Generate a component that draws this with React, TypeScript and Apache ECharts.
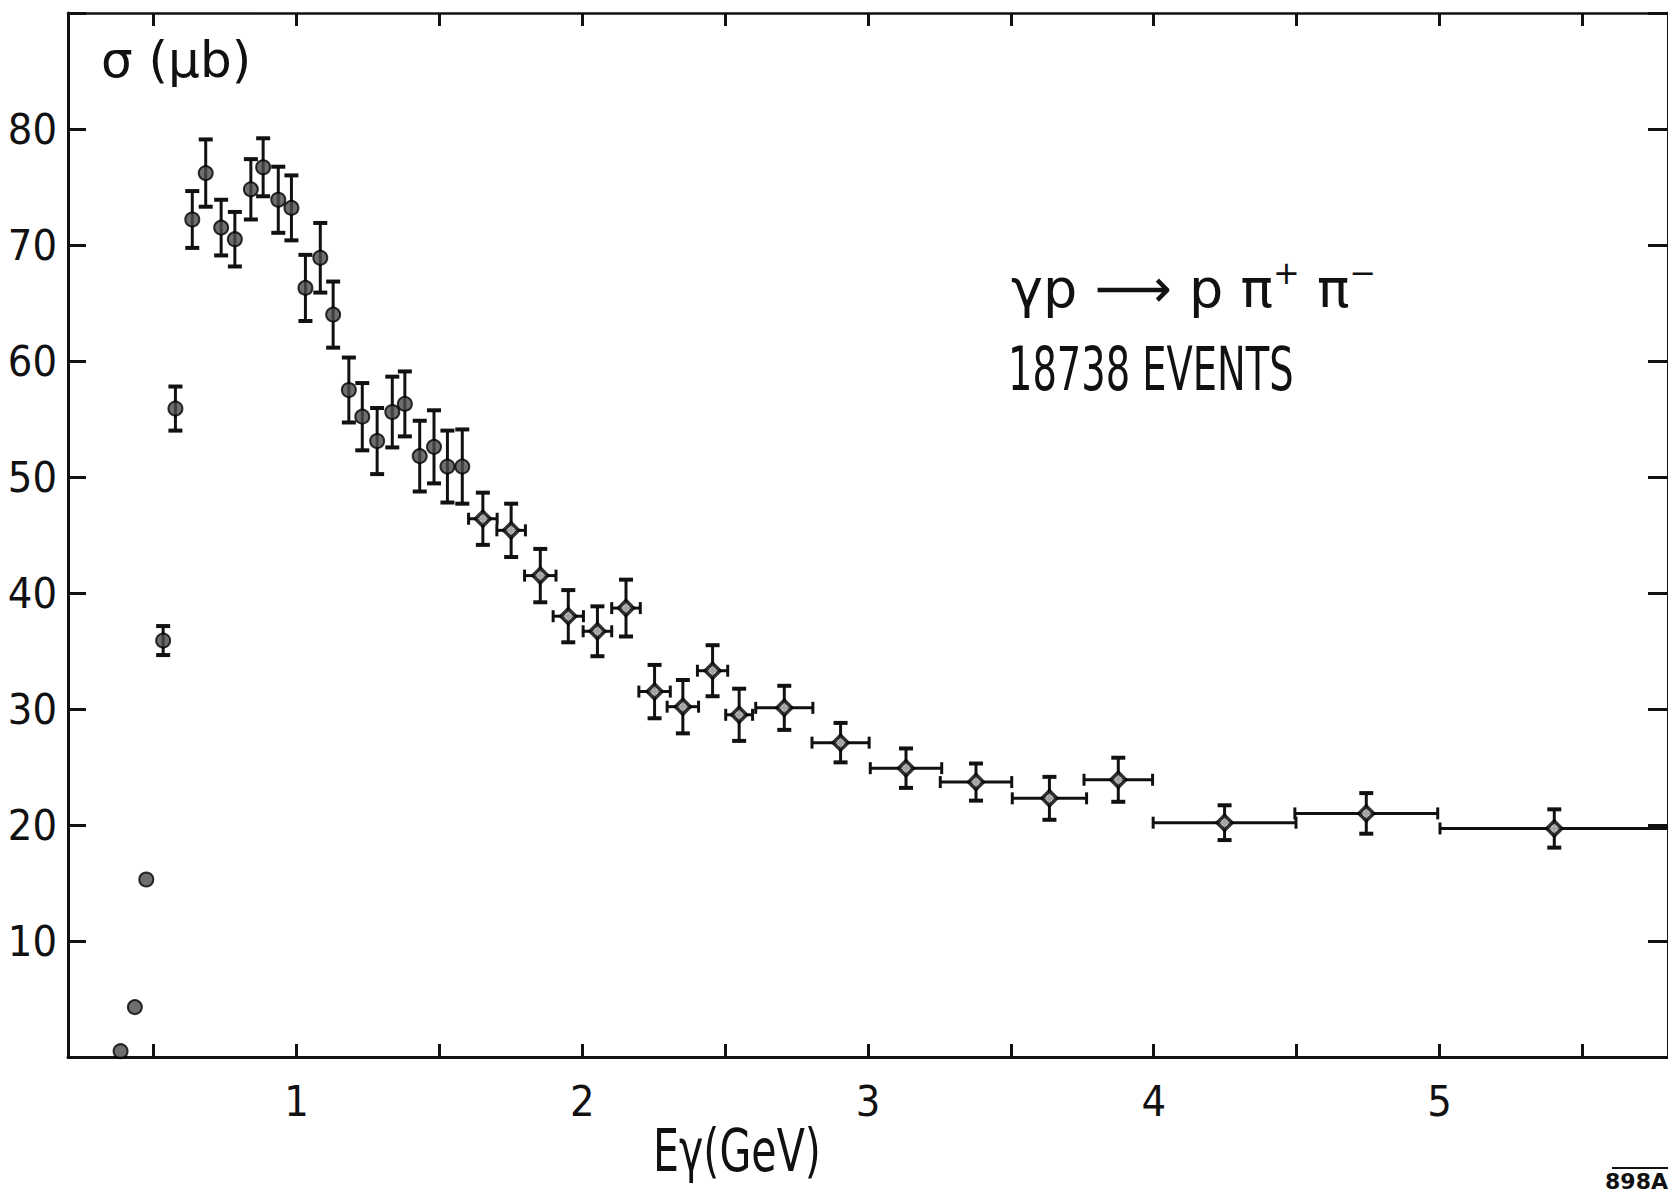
import React, { useEffect, useRef } from 'react';
import * as echarts from 'echarts';

// photon energy (GeV), bin centres
const energy = [0.384, 0.434, 0.474, 0.533, 0.576, 0.635, 0.682, 0.736, 0.784, 0.84, 0.883, 0.936, 0.982, 1.031, 1.083, 1.128, 1.183, 1.23, 1.282, 1.335, 1.379, 1.431, 1.481, 1.528, 1.58, 1.652, 1.751, 1.853, 1.951, 2.053, 2.153, 2.253, 2.352, 2.456, 2.549, 2.707, 2.904, 3.133, 3.378, 3.635, 3.876, 4.248, 4.744, 5.402];
// cross section (µb)
const sigma = [0.5, 4.3, 15.3, 35.9, 55.9, 72.2, 76.2, 71.5, 70.5, 74.8, 76.7, 73.9, 73.2, 66.3, 68.9, 64.0, 57.5, 55.2, 53.1, 55.6, 56.3, 51.8, 52.6, 50.9, 50.9, 46.4, 45.4, 41.5, 38.0, 36.7, 38.7, 31.5, 30.2, 33.3, 29.5, 30.1, 27.1, 24.9, 23.7, 22.3, 23.9, 20.2, 21.0, 19.7];
// vertical error (±µb)
const sigmaErr = [0, 0, 0, 1.25, 1.9, 2.45, 2.9, 2.4, 2.35, 2.6, 2.5, 2.85, 2.8, 2.85, 3.0, 2.85, 2.8, 2.9, 2.85, 3.05, 2.8, 3.05, 3.15, 3.1, 3.2, 2.25, 2.3, 2.3, 2.25, 2.15, 2.45, 2.3, 2.3, 2.2, 2.25, 1.9, 1.7, 1.7, 1.6, 1.85, 1.9, 1.5, 1.75, 1.65];
// horizontal half bin width (±GeV)
const energyErr = [0, 0, 0, 0, 0, 0, 0, 0, 0, 0, 0, 0, 0, 0, 0, 0, 0, 0, 0, 0, 0, 0, 0, 0, 0, 0.05, 0.05, 0.055, 0.053, 0.05, 0.05, 0.055, 0.055, 0.053, 0.047, 0.1, 0.1, 0.125, 0.125, 0.13, 0.12, 0.25, 0.25, 0.4];

const xTickValues = [0.5, 1, 1.5, 2, 2.5, 3, 3.5, 4, 4.5, 5, 5.5];
const xLabelValues = [1, 2, 3, 4, 5];
const yLabelValues = [10, 20, 30, 40, 50, 60, 70, 80];

const LABEL_FONT = "'DejaVu Sans Condensed', 'Liberation Sans Narrow', 'DejaVu Sans', sans-serif";
const TEXT_FONT = "'DejaVu Sans', sans-serif";
const INK = '#111';

export default function App() {
  const ref = useRef<HTMLDivElement>(null);

  useEffect(() => {
    document.body.style.margin = '0';
    const chart = echarts.init(ref.current!, undefined, { renderer: 'svg' });

    const errData = energy.map((e, i) => [e, sigma[i], sigmaErr[i], energyErr[i]]);
    const pointData = energy.map((e, i) => ({
      value: [e, sigma[i]],
      symbol: i < 25 ? 'circle' : 'diamond',
      symbolSize: i < 25 ? 14 : 15,
      itemStyle: i < 25
        ? { color: '#4a4a4a', borderColor: '#000', borderWidth: 2 }
        : { color: '#c8c8c8', borderColor: '#000', borderWidth: 3.5 },
    }));

    const axisLine = { show: true, onZero: false, lineStyle: { color: INK, width: 3 } };

    chart.setOption({
      animation: false,
      backgroundColor: '#fff',
      grid: { left: 68, right: -12, top: 13, bottom: 135 },
      xAxis: [
        {
          type: 'value', position: 'bottom', min: 0.2, max: 5.8,
          axisLine,
          axisTick: { show: true, inside: true, length: 13, lineStyle: { color: INK, width: 3 }, customValues: xTickValues },
          axisLabel: { show: true, customValues: xLabelValues, fontSize: 43, fontFamily: LABEL_FONT, color: INK, margin: 22 },
          splitLine: { show: false },
        },
        {
          type: 'value', position: 'top', min: 0.2, max: 5.8,
          axisLine: { show: true, onZero: false, lineStyle: { color: INK, width: 2.5 } },
          axisTick: { show: true, inside: true, length: 13, lineStyle: { color: INK, width: 3 }, customValues: xTickValues },
          axisLabel: { show: false },
          splitLine: { show: false },
        },
      ],
      yAxis: [
        {
          type: 'value', position: 'left', min: 0, max: 90, interval: 10,
          axisLine,
          axisTick: { show: true, inside: true, length: 18, lineStyle: { color: INK, width: 3 } },
          axisLabel: {
            show: true, fontSize: 43, fontFamily: LABEL_FONT, color: INK, margin: 11,
            formatter: (v: number) => (yLabelValues.indexOf(v) >= 0 ? String(v) : ''),
          },
          splitLine: { show: false },
        },
        {
          type: 'value', position: 'right', min: 0, max: 90, interval: 10,
          axisLine,
          axisTick: { show: true, inside: true, length: 20, lineStyle: { color: INK, width: 3 } },
          axisLabel: { show: false },
          splitLine: { show: false },
        },
      ],
      series: [
        {
          type: 'custom',
          xAxisIndex: 0, yAxisIndex: 0,
          data: errData,
          z: 2,
          renderItem: (_params: any, api: any) => {
            const x = api.value(0), y = api.value(1), ey = api.value(2), ex = api.value(3);
            const style = { stroke: INK, lineWidth: 3 };
            const cap = { stroke: INK, lineWidth: 4 };
            const children: any[] = [];
            if (ey > 0) {
              const t = api.coord([x, y + ey]);
              const b = api.coord([x, y - ey]);
              children.push({ type: 'line', shape: { x1: t[0], y1: t[1], x2: b[0], y2: b[1] }, style });
              children.push({ type: 'line', shape: { x1: t[0] - 7, y1: t[1], x2: t[0] + 7, y2: t[1] }, style: cap });
              children.push({ type: 'line', shape: { x1: b[0] - 7, y1: b[1], x2: b[0] + 7, y2: b[1] }, style: cap });
            }
            if (ex > 0) {
              const l = api.coord([x - ex, y]);
              const r = api.coord([x + ex, y]);
              children.push({ type: 'line', shape: { x1: l[0], y1: l[1], x2: r[0], y2: r[1] }, style });
              children.push({ type: 'line', shape: { x1: l[0], y1: l[1] - 6, x2: l[0], y2: l[1] + 6 }, style });
              children.push({ type: 'line', shape: { x1: r[0], y1: r[1] - 6, x2: r[0], y2: r[1] + 6 }, style });
            }
            return { type: 'group', children };
          },
        },
        {
          type: 'scatter',
          xAxisIndex: 0, yAxisIndex: 0,
          data: pointData,
          z: 3,
        },
      ],
      graphic: [
        {
          type: 'text', x: 101, y: 60,
          style: { text: 'σ (μb)', font: `50px ${TEXT_FONT}`, fill: INK, align: 'left', verticalAlign: 'middle', textAlign: 'left', textVerticalAlign: 'middle' },
        },
        {
          type: 'text', x: 1011, y: 288,
          style: {
            text: '{n|γp ⟶ p π}{s|+}{n| π}{s|−}',
            fill: INK, align: 'left', verticalAlign: 'middle', textAlign: 'left', textVerticalAlign: 'middle',
            rich: {
              n: { fontSize: 54, fontFamily: TEXT_FONT, fill: INK, lineHeight: 62 },
              s: { fontSize: 32, fontFamily: TEXT_FONT, fill: INK, verticalAlign: 'top', lineHeight: 62 },
            },
          },
        },
        {
          type: 'text', x: 1008, y: 369, scaleX: 0.64,
          style: { text: '18738 EVENTS', font: `60px ${TEXT_FONT}`, fill: INK, align: 'left', verticalAlign: 'middle', textAlign: 'left', textVerticalAlign: 'middle' },
        },
        {
          type: 'text', x: 653, y: 1151, scaleX: 0.71,
          style: { text: 'Eγ(GeV)', font: `58px ${TEXT_FONT}`, fill: INK, align: 'left', verticalAlign: 'middle', textAlign: 'left', textVerticalAlign: 'middle' },
        },
        {
          type: 'line', shape: { x1: 1612, y1: 1168, x2: 1668, y2: 1168 }, style: { stroke: INK, lineWidth: 2 },
        },
        {
          type: 'text', x: 1668, y: 1181,
          style: { text: '898A', font: `bold 22px ${TEXT_FONT}`, fill: INK, align: 'right', verticalAlign: 'middle', textAlign: 'right', textVerticalAlign: 'middle' },
        },
      ],
    });

    return () => chart.dispose();
  }, []);

  return <div ref={ref} style={{ width: 1668, height: 1192 }} />;
}
